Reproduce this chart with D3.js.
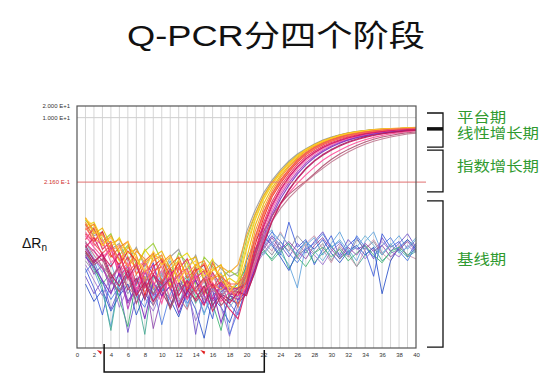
<!DOCTYPE html>
<html>
<head>
<meta charset="utf-8">
<script src="https://cdn.jsdelivr.net/npm/d3@7"></script>
<style>
  body { margin: 0; background: #fff; }
  svg { display: block; }
  text { font-family: "Liberation Sans", Arial, "Noto Sans CJK SC", sans-serif; }
</style>
</head>
<body>
<div id="chart"></div>
<script>
// cycles 1..40, values are log10(ΔRn)
const cycles = d3.range(1, 41);
const xTicks = d3.range(0, 41, 2);
const yTickValues = [Math.log10(20), Math.log10(10)];
const yTickLabels = ["2.000 E+1", "1.000 E+1"];
const threshold = Math.log10(0.216);
const thresholdLabel = "2.160 E-1";
const baselineMarks = [2.7, 14.9];
const baselineBracket = [3.2, 22.1];

// amplified wells
const ampColors = ["#9a9a9a", "#9acd32", "#e8d20a", "#f0b400", "#f7941d", "#f26522", "#ed1c24", "#e8305a",
                   "#e0218a", "#f06eaa", "#b83dba", "#7b2fbe", "#a0286e", "#ff4f9a", "#b05070", "#c07890",
                   "#f5a623", "#ff7f50", "#ffcc33", "#d81b60", "#f15a5a", "#c2185b"];
const ampValues = [
  [-1.75,-2.05,-1.95,-2.40,-2.25,-2.70,-2.35,-2.85,-2.50,-3.10,-2.60,-2.40,-2.95,-2.55,-3.20,-2.70,-2.90,-3.10,
   -3.0,-1.95,-1.40,-0.95,-0.62,-0.35,-0.12,0.06,0.20,0.32,0.42,0.50,0.56,0.61,0.64,0.67,0.69,0.70,0.71,0.72,0.73,0.74],
  [-1.65,-1.90,-2.20,-2.00,-2.55,-2.30,-2.80,-2.45,-2.25,-2.70,-3.05,-2.50,-2.75,-3.30,-2.60,-2.85,-3.15,-2.95,
   -3.1,-2.15,-1.52,-1.03,-0.68,-0.40,-0.16,0.03,0.18,0.30,0.40,0.48,0.55,0.60,0.64,0.67,0.69,0.70,0.71,0.72,0.73,0.74],
  [-1.80,-1.70,-2.15,-2.35,-2.10,-2.60,-2.90,-2.40,-2.70,-2.55,-3.35,-2.65,-2.50,-2.85,-3.00,-2.65,-3.30,-3.15,
   -3.3,-2.40,-1.65,-1.12,-0.74,-0.44,-0.19,0.01,0.17,0.29,0.39,0.47,0.54,0.59,0.63,0.66,0.68,0.70,0.71,0.72,0.73,0.74],
  [-1.60,-2.00,-1.85,-2.30,-2.70,-2.35,-2.55,-3.20,-2.60,-2.45,-2.90,-3.10,-2.70,-2.60,-3.25,-2.95,-2.80,-3.35,
   -3.4,-2.65,-1.80,-1.24,-0.82,-0.50,-0.24,-0.03,0.14,0.27,0.37,0.46,0.53,0.58,0.62,0.65,0.68,0.70,0.71,0.72,0.73,0.73],
  [-1.70,-2.10,-2.30,-2.05,-2.50,-2.85,-2.45,-2.65,-3.40,-2.75,-2.55,-3.00,-3.45,-2.80,-2.70,-3.15,-3.05,-3.40,
   -3.5,-2.90,-1.95,-1.35,-0.90,-0.55,-0.28,-0.06,0.11,0.25,0.35,0.44,0.51,0.57,0.61,0.64,0.67,0.69,0.70,0.71,0.72,0.73],
  [-1.90,-1.75,-2.25,-2.60,-2.35,-2.20,-3.05,-2.70,-2.50,-3.25,-2.80,-2.60,-3.15,-2.90,-3.55,-2.75,-3.20,-3.45,
   -3.6,-3.05,-2.10,-1.47,-0.98,-0.62,-0.34,-0.10,0.08,0.22,0.33,0.42,0.49,0.55,0.59,0.63,0.66,0.68,0.70,0.71,0.72,0.73],
  [-2.00,-2.20,-1.95,-2.55,-2.80,-2.45,-2.70,-3.60,-2.85,-2.65,-3.10,-2.75,-3.50,-2.95,-2.80,-3.40,-3.25,-3.55,
   -3.6,-3.20,-2.30,-1.60,-1.05,-0.70,-0.40,-0.15,0.04,0.18,0.30,0.39,0.46,0.52,0.57,0.61,0.64,0.66,0.68,0.70,0.71,0.72],
  [-2.15,-1.85,-2.40,-2.20,-2.95,-2.60,-3.30,-2.75,-3.05,-2.70,-3.45,-2.90,-2.65,-3.20,-3.60,-3.00,-3.35,-3.50,
   -3.5,-3.25,-2.45,-1.72,-1.17,-0.78,-0.47,-0.21,-0.01,0.14,0.26,0.36,0.43,0.50,0.55,0.59,0.62,0.65,0.67,0.69,0.70,0.71],
  [-2.25,-2.45,-2.70,-2.35,-3.10,-2.85,-3.55,-3.00,-2.80,-3.65,-3.05,-2.85,-3.40,-3.15,-2.95,-3.70,-3.30,-3.45,
   -3.4,-3.30,-2.60,-1.85,-1.30,-0.88,-0.55,-0.28,-0.07,0.09,0.22,0.32,0.40,0.47,0.53,0.57,0.61,0.64,0.66,0.68,0.69,0.70],
  [-1.95,-2.30,-2.15,-2.75,-2.50,-3.20,-2.90,-2.70,-3.35,-2.95,-3.70,-3.10,-2.95,-3.55,-3.20,-3.05,-3.60,-3.40,
   -3.7,-3.35,-2.70,-1.95,-1.38,-0.95,-0.61,-0.33,-0.11,0.06,0.19,0.30,0.38,0.45,0.51,0.56,0.60,0.63,0.65,0.67,0.69,0.70],
  [-2.40,-2.65,-2.90,-3.30,-2.80,-3.95,-3.20,-2.95,-3.60,-3.35,-3.10,-3.85,-3.30,-3.05,-3.60,-3.90,-3.25,-3.55,
   -3.6,-3.45,-2.80,-2.05,-1.47,-1.02,-0.68,-0.40,-0.17,0.01,0.15,0.27,0.36,0.43,0.49,0.54,0.58,0.61,0.64,0.66,0.68,0.69],
  [-2.60,-2.85,-3.20,-3.55,-3.00,-3.75,-3.40,-4.20,-3.25,-3.60,-3.35,-4.05,-3.50,-3.20,-3.80,-3.45,-4.30,-3.60,
   -3.7,-3.50,-2.90,-2.15,-1.55,-1.10,-0.75,-0.46,-0.22,-0.03,0.12,0.24,0.34,0.42,0.48,0.53,0.57,0.60,0.63,0.65,0.67,0.68],
  [-2.30,-2.70,-2.55,-3.15,-2.85,-3.45,-3.15,-3.70,-3.05,-3.50,-3.90,-3.25,-3.65,-3.40,-3.15,-3.85,-3.55,-3.70,
   -3.8,-3.55,-3.00,-2.30,-1.70,-1.22,-0.86,-0.56,-0.31,-0.11,0.05,0.18,0.29,0.38,0.45,0.51,0.55,0.59,0.62,0.64,0.66,0.67],
  [-2.05,-2.35,-2.60,-2.40,-3.00,-2.75,-3.45,-2.95,-3.25,-3.80,-3.00,-3.35,-3.70,-3.10,-3.45,-3.25,-3.75,-3.50,
   -3.6,-3.40,-2.80,-2.20,-1.65,-1.25,-0.95,-0.70,-0.48,-0.28,-0.10,0.04,0.16,0.27,0.36,0.43,0.49,0.54,0.58,0.61,0.64,0.66],
  [-2.50,-2.80,-2.65,-3.20,-3.50,-3.05,-3.80,-3.30,-3.55,-3.20,-3.95,-3.45,-3.25,-3.75,-3.50,-3.30,-3.85,-3.60,
   -3.4,-3.30,-2.60,-1.95,-1.55,-1.22,-0.98,-0.80,-0.64,-0.45,-0.25,-0.08,0.06,0.18,0.28,0.37,0.44,0.50,0.54,0.58,0.61,0.63],
  [-2.20,-2.55,-2.85,-3.10,-2.90,-3.40,-3.60,-3.15,-3.85,-3.40,-3.20,-3.65,-3.95,-3.35,-3.70,-3.45,-3.60,-3.40,
   -3.5,-3.35,-2.75,-2.10,-1.68,-1.35,-1.08,-0.86,-0.66,-0.48,-0.31,-0.15,-0.01,0.11,0.22,0.31,0.39,0.45,0.50,0.54,0.58,0.60],
  [-1.58,-1.95,-2.05,-2.25,-2.15,-2.50,-2.40,-2.75,-2.55,-2.65,-2.90,-2.70,-3.05,-2.80,-2.95,-3.20,-2.85,-3.00,
   -2.8,-2.05,-1.50,-1.02,-0.68,-0.40,-0.17,0.02,0.17,0.30,0.40,0.48,0.55,0.60,0.64,0.67,0.69,0.71,0.72,0.73,0.74,0.75],
  [-1.85,-2.15,-2.00,-2.45,-2.30,-2.85,-2.60,-3.00,-2.70,-2.55,-3.15,-2.85,-3.35,-3.00,-2.75,-3.30,-3.45,-3.25,
   -3.9,-3.15,-2.20,-1.53,-1.02,-0.66,-0.37,-0.13,0.05,0.19,0.31,0.40,0.47,0.53,0.58,0.62,0.65,0.67,0.69,0.70,0.71,0.72],
  [-1.62,-1.80,-2.30,-2.10,-2.45,-2.20,-2.65,-2.95,-2.45,-2.80,-2.60,-3.25,-2.85,-2.70,-3.10,-2.90,-3.05,-3.50,
   -3.2,-2.30,-1.60,-1.08,-0.71,-0.42,-0.18,0.02,0.17,0.29,0.39,0.47,0.54,0.59,0.63,0.66,0.68,0.70,0.71,0.72,0.73,0.74],
  [-2.35,-2.10,-2.55,-2.85,-2.50,-3.15,-2.80,-3.40,-3.05,-3.30,-2.90,-3.60,-3.20,-3.50,-3.85,-3.30,-3.65,-3.95,
   -4.2,-3.40,-2.50,-1.80,-1.25,-0.85,-0.53,-0.27,-0.06,0.10,0.23,0.33,0.41,0.48,0.53,0.58,0.61,0.64,0.66,0.68,0.69,0.70],
  [-1.75,-2.25,-2.50,-2.30,-2.65,-3.00,-2.75,-3.25,-2.95,-2.85,-3.40,-3.05,-2.90,-3.50,-3.15,-3.40,-3.10,-3.30,
   -3.3,-3.00,-2.10,-1.45,-0.97,-0.62,-0.34,-0.10,0.08,0.22,0.33,0.42,0.49,0.55,0.59,0.63,0.66,0.68,0.70,0.71,0.72,0.73],
  [-2.45,-2.75,-2.50,-3.05,-3.35,-2.95,-3.60,-3.25,-3.75,-3.40,-3.15,-3.90,-3.45,-3.70,-3.35,-4.00,-3.60,-3.80,
   -3.5,-3.60,-2.95,-2.25,-1.68,-1.23,-0.88,-0.58,-0.33,-0.13,0.03,0.16,0.27,0.36,0.43,0.49,0.54,0.58,0.61,0.64,0.66,0.67]
];

// non-amplified wells
const flatColors = ["#3b5bdb", "#5aa0dc", "#6a4cc8", "#8c8c9c", "#40a890", "#c890a8", "#2850c8", "#9a70d0",
                    "#3cb371", "#4a78e0", "#8e44ad", "#66b2d6"];
const flatValues = [
  [-2.90,-3.40,-4.10,-3.20,-3.60,-2.95,-3.80,-3.30,-2.75,-3.50,-3.05,-3.90,-3.35,-2.85,-3.60,-4.20,-3.10,-3.55,
   -3.90,-2.70,-2.20,-1.85,-2.25,-2.55,-1.70,-2.35,-2.15,-2.80,-2.40,-2.05,-2.60,-2.30,-2.10,-2.45,-3.10,-2.00,-2.35,-2.20,-2.60,-2.25],
  [-2.50,-2.95,-3.50,-4.40,-3.10,-2.80,-3.35,-2.90,-3.70,-3.15,-2.70,-3.25,-3.90,-3.05,-2.80,-3.45,-3.00,-3.65,
   -3.20,-2.90,-2.45,-2.10,-1.90,-2.50,-2.80,-3.40,-2.30,-2.10,-2.55,-2.25,-1.95,-2.40,-2.70,-2.20,-1.95,-2.50,-2.30,-2.05,-2.40,-2.15],
  [-3.10,-3.55,-3.20,-3.95,-3.40,-4.55,-3.60,-3.15,-3.75,-3.30,-3.85,-3.50,-3.20,-4.60,-3.45,-3.70,-3.30,-3.80,
   -4.10,-3.30,-2.60,-2.35,-2.05,-2.30,-2.60,-2.25,-2.50,-2.20,-1.95,-2.35,-2.55,-2.15,-2.40,-2.30,-2.65,-2.10,-2.45,-2.25,-2.00,-2.35],
  [-2.70,-3.00,-2.85,-3.30,-3.05,-3.55,-3.25,-2.95,-3.45,-3.15,-3.70,-3.35,-3.05,-3.50,-3.25,-3.60,-3.40,-3.75,
   -3.40,-2.95,-2.60,-2.30,-2.55,-2.20,-2.45,-2.05,-2.30,-2.50,-2.25,-2.70,-2.35,-2.60,-2.15,-2.40,-2.20,-2.55,-2.30,-2.45,-2.15,-2.35],
  [-2.35,-2.80,-3.40,-4.50,-3.20,-2.90,-3.50,-4.60,-3.10,-3.35,-2.95,-3.60,-3.25,-3.80,-3.40,-3.00,-3.55,-3.70,
   -3.60,-3.10,-2.75,-2.45,-2.65,-2.35,-2.90,-2.55,-2.40,-2.75,-2.50,-2.30,-2.65,-2.45,-2.85,-2.55,-2.35,-2.70,-2.50,-2.40,-2.60,-2.45],
  [-2.60,-2.40,-2.90,-3.20,-2.75,-3.35,-3.05,-3.50,-3.20,-2.95,-3.40,-3.15,-3.55,-3.25,-3.00,-3.45,-3.30,-3.60,
   -3.50,-3.00,-2.50,-2.20,-2.45,-1.95,-2.35,-2.60,-2.25,-2.05,-2.40,-2.75,-2.30,-2.55,-2.85,-2.40,-2.15,-2.50,-2.70,-2.30,-2.55,-2.65],
  [-3.30,-3.75,-3.45,-4.00,-3.60,-3.30,-4.10,-3.55,-3.85,-3.40,-3.70,-4.15,-3.50,-3.95,-4.70,-3.65,-3.90,-4.30,
   -3.70,-3.25,-2.40,-2.05,-2.30,-2.60,-2.95,-2.45,-2.20,-2.40,-2.15,-2.50,-2.75,-2.45,-2.30,-2.55,-2.35,-3.55,-2.70,-2.35,-2.15,-2.40],
  [-2.80,-3.20,-3.60,-3.10,-3.90,-3.40,-3.15,-3.65,-4.00,-3.45,-3.20,-3.75,-3.50,-4.25,-3.70,-3.35,-3.90,-4.65,
   -3.80,-3.40,-2.85,-2.50,-2.20,-2.45,-2.25,-2.65,-2.35,-2.55,-2.80,-2.45,-2.25,-2.50,-2.35,-2.65,-2.40,-2.20,-2.45,-2.60,-2.30,-2.50],
  [-2.45,-2.90,-3.30,-3.00,-3.70,-4.40,-3.20,-2.95,-3.55,-3.25,-3.95,-3.40,-3.10,-3.65,-3.35,-3.80,-4.50,-3.50,
   -3.30,-2.85,-2.55,-2.40,-2.70,-2.45,-2.25,-2.60,-2.85,-2.50,-2.35,-2.60,-2.40,-2.70,-2.50,-2.30,-2.55,-2.75,-2.45,-2.35,-2.55,-2.40],
  [-3.00,-2.70,-3.25,-3.70,-3.35,-3.05,-3.60,-3.90,-3.30,-4.35,-3.55,-3.25,-3.80,-3.45,-4.05,-3.60,-3.35,-4.60,
   -4.00,-3.50,-2.90,-2.30,-1.95,-2.20,-2.50,-2.75,-2.40,-2.25,-2.00,-2.35,-2.20,-2.55,-2.05,-2.35,-2.60,-2.30,-2.10,-2.45,-2.70,-2.30],
  [-2.55,-3.05,-2.80,-3.50,-3.20,-3.80,-3.45,-3.10,-4.45,-3.60,-3.35,-3.05,-3.70,-3.40,-3.15,-3.75,-3.50,-3.35,
   -3.45,-3.05,-2.65,-2.40,-2.10,-2.40,-2.20,-2.45,-2.65,-2.30,-2.10,-2.40,-2.65,-2.35,-2.55,-2.25,-2.45,-2.30,-2.60,-2.40,-2.20,-2.45],
  [-2.20,-2.65,-3.00,-2.75,-3.45,-3.10,-2.85,-3.30,-3.60,-3.00,-3.40,-3.85,-3.15,-3.45,-4.10,-3.35,-3.65,-3.90,
   -3.60,-3.15,-2.35,-2.55,-2.25,-2.00,-2.30,-2.55,-2.20,-2.45,-2.70,-2.35,-2.15,-2.45,-2.35,-2.05,-2.30,-2.55,-2.25,-2.50,-2.35,-2.10]
];

// phase brackets on the right, in log10(ΔRn)
const phaseNames = ["平台期", "线性增长期", "指数增长期", "基线期"];
const phaseLabelAt = [1.02, 0.60, -0.26, -2.65];
const phaseRanges = [[1.12, 0.24], [0.16, -0.92], [-1.15, -4.93]];
const plateauSplit = 0.71;

const width = 552, height = 390;
const svg = d3.select("#chart").append("svg")
    .attr("width", width)
    .attr("height", height);

const x = d3.scaleLinear().domain([0, 40]).range([77, 416]);
const y = d3.scaleLinear().domain([-4.952, Math.log10(20)]).range([348, 106]);

// title
svg.append("text")
    .attr("x", 276).attr("y", 46)
    .attr("text-anchor", "middle")
    .attr("font-size", 30)
    .attr("textLength", 298).attr("lengthAdjust", "spacingAndGlyphs")
    .attr("fill", "#111")
    .text("Q-PCR分四个阶段");

// grid
svg.append("g")
    .selectAll("line")
    .data(d3.range(1, 40))
    .join("line")
    .attr("x1", d => x(d)).attr("x2", d => x(d))
    .attr("y1", y.range()[1]).attr("y2", y.range()[0])
    .attr("stroke", "#d6d6d6").attr("stroke-width", 1);

svg.append("line")
    .attr("x1", x(0)).attr("x2", x(40))
    .attr("y1", y(yTickValues[1])).attr("y2", y(yTickValues[1]))
    .attr("stroke", "#cfcfcf");

const line = d3.line()
    .x((d, i) => x(cycles[i]))
    .y(d => y(d));

svg.append("g")
    .selectAll("path")
    .data(flatValues)
    .join("path")
    .attr("d", line)
    .attr("fill", "none")
    .attr("stroke", (d, i) => flatColors[i])
    .attr("stroke-width", 1)
    .attr("opacity", 0.85);

svg.append("g")
    .selectAll("path")
    .data(ampValues)
    .join("path")
    .attr("d", line)
    .attr("fill", "none")
    .attr("stroke", (d, i) => ampColors[i])
    .attr("stroke-width", 1.1)
    .attr("opacity", 0.9);

// threshold
svg.append("line")
    .attr("x1", x(0)).attr("x2", x(40) + 10)
    .attr("y1", y(threshold)).attr("y2", y(threshold))
    .attr("stroke", "#e07070").attr("stroke-width", 1);

// frame
svg.append("rect")
    .attr("x", x(0)).attr("y", y.range()[1])
    .attr("width", x(40) - x(0)).attr("height", y.range()[0] - y.range()[1])
    .attr("fill", "none").attr("stroke", "#555").attr("stroke-width", 1.2);

// y labels
svg.append("g")
    .selectAll("text")
    .data(yTickValues)
    .join("text")
    .attr("x", 70).attr("y", d => y(d) + 2)
    .attr("text-anchor", "end")
    .attr("font-size", 6)
    .attr("fill", "#333")
    .text((d, i) => yTickLabels[i]);

svg.append("text")
    .attr("x", 70).attr("y", y(threshold) + 2)
    .attr("text-anchor", "end")
    .attr("font-size", 6)
    .attr("fill", "#d03030")
    .text(thresholdLabel);

// x axis
const xAxis = svg.append("g")
    .attr("transform", `translate(0,${y.range()[0]})`)
    .call(d3.axisBottom(x).tickValues(xTicks).tickSize(0).tickPadding(5));
xAxis.select(".domain").remove();
xAxis.selectAll("text")
    .attr("font-size", 6)
    .attr("font-family", "Liberation Sans, Arial, sans-serif")
    .attr("fill", "#333");

// ΔRn
const yTitle = svg.append("text")
    .attr("x", 22).attr("y", 248)
    .attr("font-size", 14)
    .attr("fill", "#111");
yTitle.append("tspan").text("ΔR");
yTitle.append("tspan").attr("font-size", 10).attr("dy", 3).text("n");

// baseline markers
svg.append("g")
    .selectAll("path")
    .data(baselineMarks)
    .join("path")
    .attr("d", d => `M${x(d) - 3},${y.range()[0] + 2} l5,1.5 l-1,3 z`)
    .attr("fill", "#e02020");

// bottom bracket
const by = y.range()[0];
svg.append("path")
    .attr("d", `M${x(baselineBracket[0])},${by - 4} V${by + 24} H${x(baselineBracket[1])} V${by + 2}`)
    .attr("fill", "none")
    .attr("stroke", "#111")
    .attr("stroke-width", 1.5);

// right brackets
const bx0 = 427, bx1 = 443;
svg.append("g")
    .selectAll("path")
    .data(phaseRanges)
    .join("path")
    .attr("d", d => `M${bx0},${y(d[0])} H${bx1} V${y(d[1])} H${bx0}`)
    .attr("fill", "none")
    .attr("stroke", "#111")
    .attr("stroke-width", 1.3);

svg.append("line")
    .attr("x1", bx0).attr("x2", bx1)
    .attr("y1", y(plateauSplit)).attr("y2", y(plateauSplit))
    .attr("stroke", "#111").attr("stroke-width", 3.5);

svg.append("g")
    .selectAll("text")
    .data(phaseNames)
    .join("text")
    .attr("x", 457)
    .attr("y", (d, i) => y(phaseLabelAt[i]) + 5)
    .attr("font-size", 14)
    .attr("font-family", "Noto Sans CJK SC, sans-serif")
    .attr("textLength", d => d.length * 16.4)
    .attr("lengthAdjust", "spacingAndGlyphs")
    .attr("fill", "#2f9a2f")
    .text(d => d);
</script>
</body>
</html>
